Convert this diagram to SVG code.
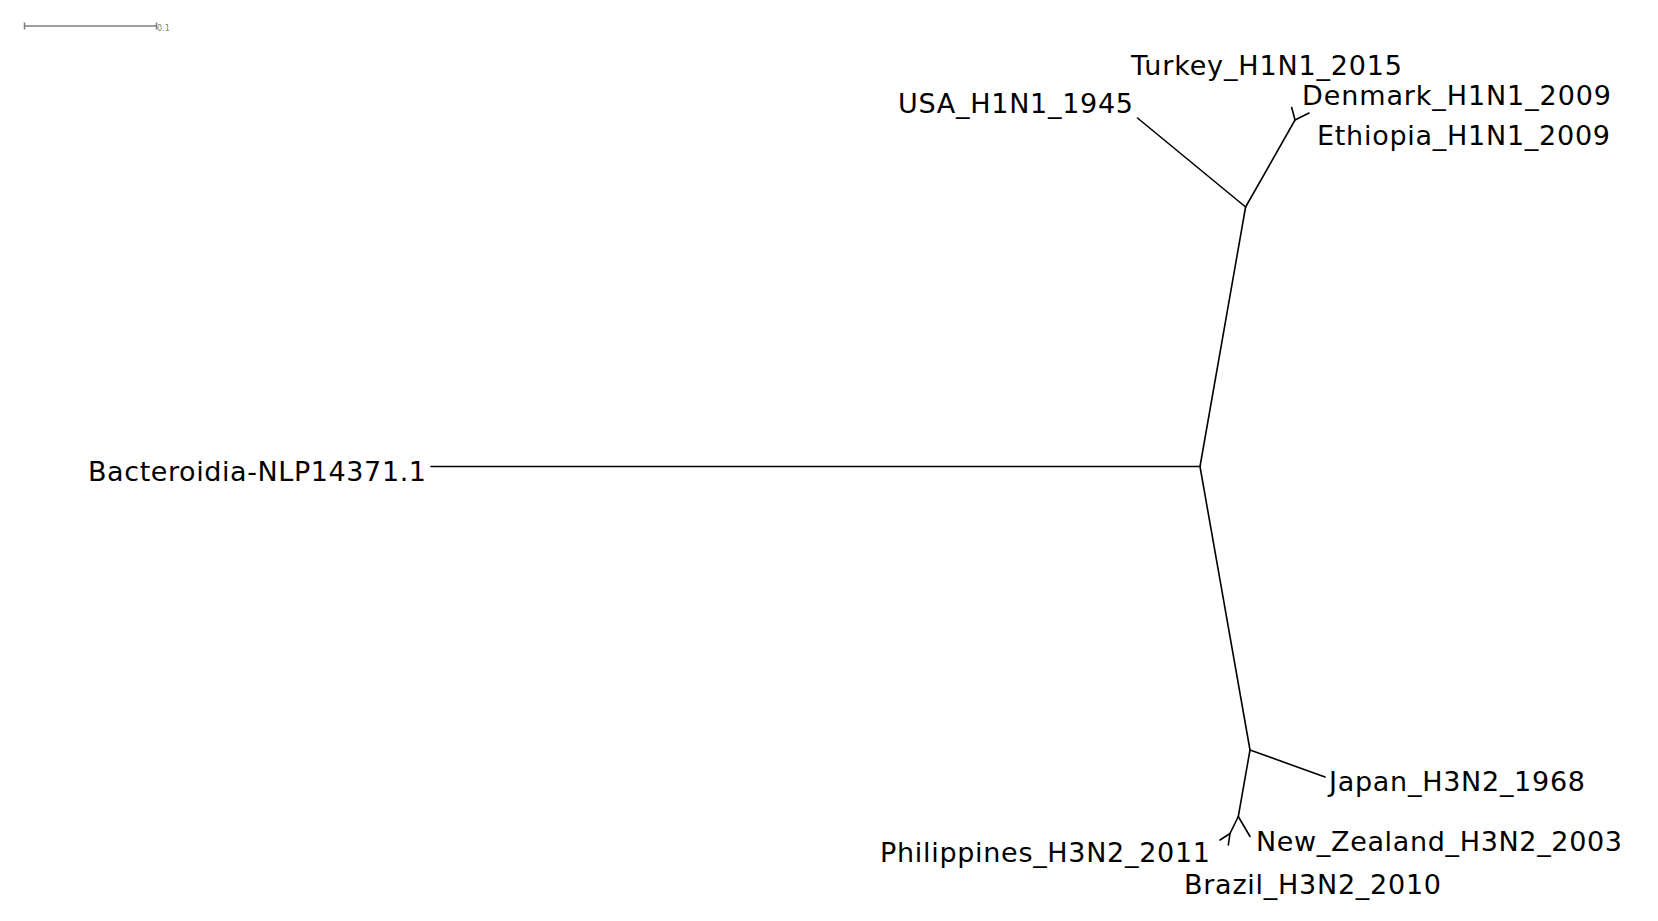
<svg xmlns="http://www.w3.org/2000/svg" width="1658" height="921" viewBox="0 0 1658 921">
<style>
.br{stroke:#000;stroke-width:1.6;fill:none;stroke-linecap:round}
.lb{font-family:"DejaVu Sans",sans-serif;font-size:27px;fill:#000}
.sc{stroke:#808080;stroke-width:1.5;fill:none}
</style>
<rect width="1658" height="921" fill="#fff"/>
<g id="scale">
<path class="sc" d="M24.5,26 H156.5 M24.5,22.5 V29.5 M156.5,22.5 V29.5"/>
<text x="157" y="31" font-family="DejaVu Sans,sans-serif" font-size="8" fill="#808080">0.1</text>
</g>
<g id="connectors">
<path class="br" d="M431,466.5 H1200"/>
<path class="br" d="M1200,466.5 L1245.6,207"/>
<path class="br" d="M1245.6,207 L1137.5,118"/>
<path class="br" d="M1245.6,207 L1295,120"/>
<path class="br" d="M1295,120 L1291.7,107.5"/>
<path class="br" d="M1295,120 L1309,113"/>
<path class="br" d="M1200,466.5 L1250,750"/>
<path class="br" d="M1250,750 L1325,777"/>
<path class="br" d="M1250,750 L1238.3,816.5"/>
<path class="br" d="M1238.3,816.5 L1250,836.5"/>
<path class="br" d="M1238.3,816.5 L1230,833.5"/>
<path class="br" d="M1230,833.5 L1228.3,845"/>
<path class="br" d="M1230,833.5 L1220,840"/>
</g>
<g id="n-bacteroidia"><text class="lb" x="88" y="481" textLength="338" lengthAdjust="spacing">Bacteroidia-NLP14371.1</text></g>
<g id="n-usa"><text class="lb" x="898" y="113" textLength="235" lengthAdjust="spacing">USA_H1N1_1945</text></g>
<g id="n-turkey"><text class="lb" x="1131" y="75" textLength="271" lengthAdjust="spacing">Turkey_H1N1_2015</text></g>
<g id="n-denmark"><text class="lb" x="1302" y="105" textLength="309" lengthAdjust="spacing">Denmark_H1N1_2009</text></g>
<g id="n-ethiopia"><text class="lb" x="1317" y="145" textLength="293" lengthAdjust="spacing">Ethiopia_H1N1_2009</text></g>
<g id="n-japan"><text class="lb" x="1329" y="791" textLength="256" lengthAdjust="spacing">Japan_H3N2_1968</text></g>
<g id="n-newzealand"><text class="lb" x="1256" y="851" textLength="366" lengthAdjust="spacing">New_Zealand_H3N2_2003</text></g>
<g id="n-brazil"><text class="lb" x="1184" y="894" textLength="257" lengthAdjust="spacing">Brazil_H3N2_2010</text></g>
<g id="n-philippines"><text class="lb" x="880" y="862" textLength="330" lengthAdjust="spacing">Philippines_H3N2_2011</text></g>
</svg>
